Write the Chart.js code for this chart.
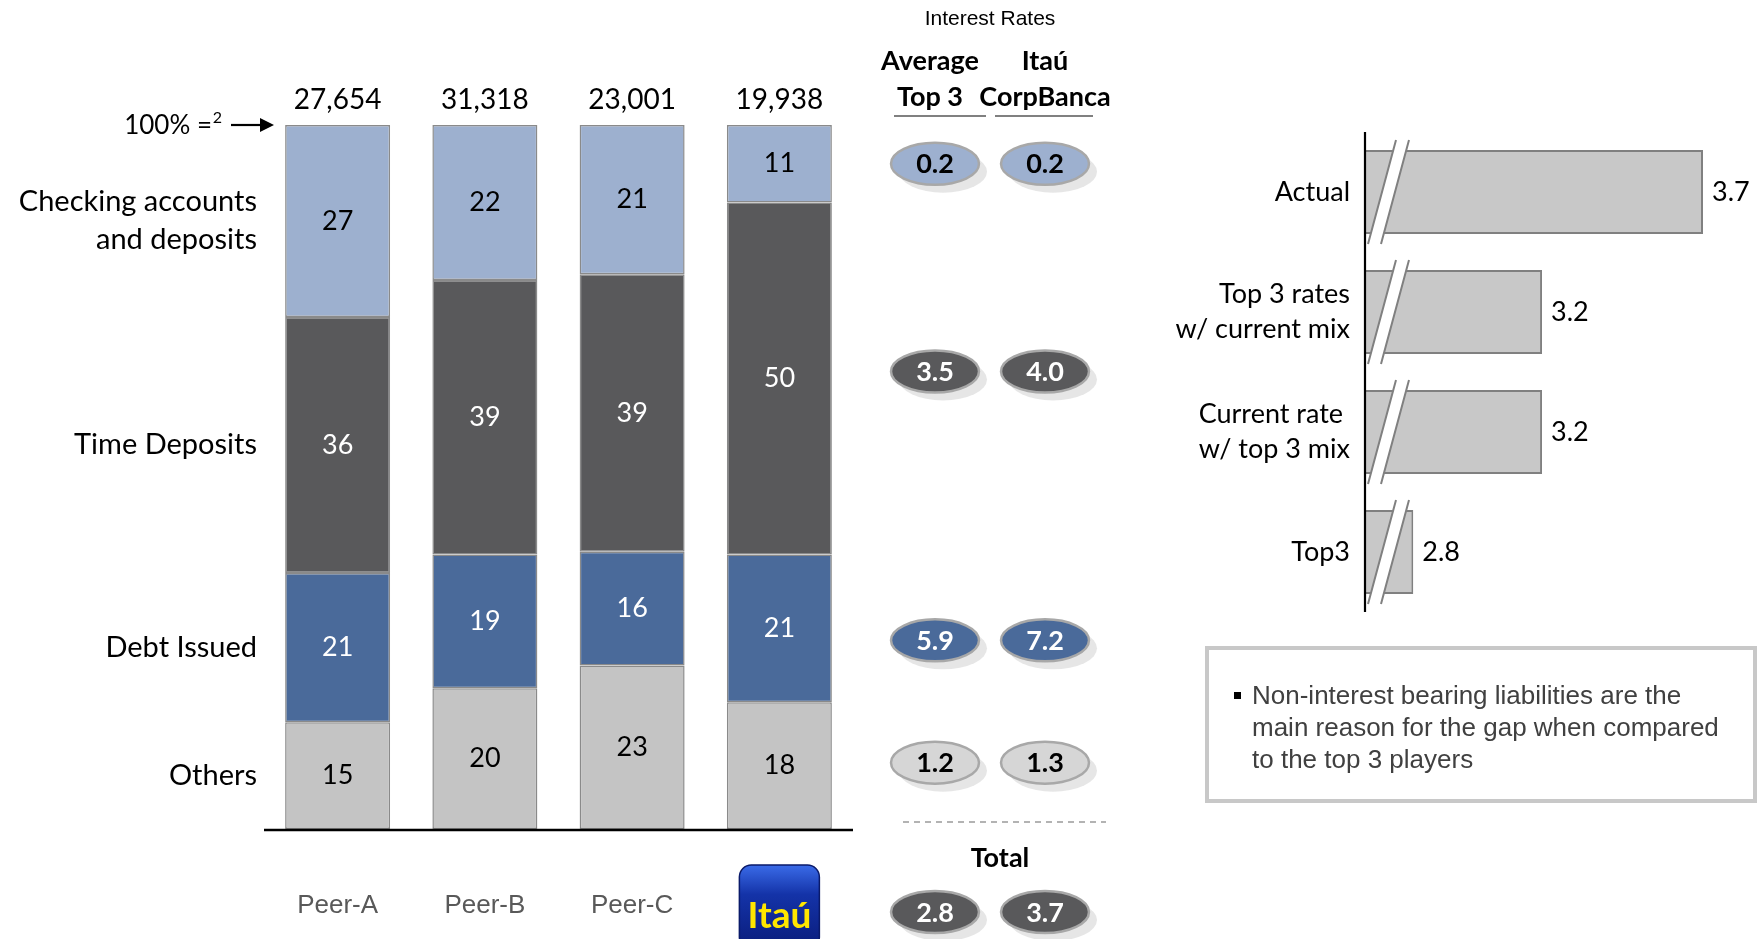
<!DOCTYPE html>
<html>
<head>
<meta charset="utf-8">
<script src="https://cdn.jsdelivr.net/npm/chart.js@4.4.1/dist/chart.umd.min.js"></script>
<style>
  html, body { margin: 0; padding: 0; background: #ffffff; width: 1764px; height: 939px; overflow: hidden; }
  canvas { position: absolute; left: 0; top: 0; }
  #note {
    position: absolute; left: 1205px; top: 646px; width: 552px; height: 157px;
    box-sizing: border-box; border: 4px solid #c8c8c8;
    font-family: "Liberation Sans", Arial, sans-serif; font-size: 26px; line-height: 32px; color: #404040;
    padding: 29px 0 0 43px; white-space: nowrap;
  }
  #note .bullet { position: absolute; left: 25px; top: 42px; width: 7px; height: 7px; background: #000; }
</style>
</head>
<body>
<canvas id="mix" width="1764" height="939"></canvas>
<canvas id="scen" width="1764" height="939"></canvas>
<div id="note"><span class="bullet"></span>Non-interest bearing liabilities are the<br>main reason for the gap when compared<br>to the top 3 players</div>
<script>
// ---------- DATA ----------
const banks = ['Peer-A', 'Peer-B', 'Peer-C', 'Itaú'];
const bankTotals = ['27,654', '31,318', '23,001', '19,938'];
const segmentNames = [['Checking accounts', 'and deposits'], ['Time Deposits'], ['Debt Issued'], ['Others']];
const checking = [27, 22, 21, 11];
const timeDep = [36, 39, 39, 50];
const debt = [21, 19, 16, 21];
const others = [15, 20, 23, 18];
const ratesTop3 = [0.2, 3.5, 5.9, 1.2];
const ratesItau = [0.2, 4.0, 7.2, 1.3];
const totalRates = [2.8, 3.7];
const scenarioLabels = [['Actual'], ['Top 3 rates', 'w/ current mix'], ['Current rate ', 'w/ top 3 mix'], ['Top3']];
const scenarioValues = [3.7, 3.2, 3.2, 2.8];

// ---------- STYLE / LAYOUT ----------
const BODY = 'Lato, "Open Sans", sans-serif';
const ARIAL = '"Liberation Sans", Arial, sans-serif';
const segColors = ['#9DB0CF', '#59595B', '#4A6A9A', '#C4C4C4'];
const segText = ['#000000', '#ffffff', '#ffffff', '#000000'];
const ellFill = ['#9DB0CF', '#59595B', '#4A6A9A', '#D6D6D6'];
const ellNudge = [0, -7, 12, -3];   // small vertical offsets (px) of rate ellipses vs. Itaú segment centres

// segment arrays in top-to-bottom order
const segs = [checking, timeDep, debt, others];
const sums = banks.map((_, i) => segs.reduce((a, s) => a + s[i], 0));
const share = arr => arr.map((v, i) => v / sums[i] * 100);

// datasets bottom first
const order = [3, 2, 1, 0];
const datasets = order.map(k => ({
  label: segmentNames[k].join(' '),
  data: share(segs[k]),
  raw: segs[k],
  seg: k,
  backgroundColor: segColors[k],
  borderColor: '#8a8a8a',
  borderWidth: 1.5,
  borderSkipped: false,
  categoryPercentage: 1,
  barPercentage: 0.713
}));

function drawEllipse(ctx, cx, cy, fill, tcol, text) {
  const rx = 44, ry = 21;
  ctx.save();
  ctx.fillStyle = 'rgba(200,200,200,0.45)';
  ctx.beginPath(); ctx.ellipse(cx + 8, cy + 8, rx, ry, 0, 0, Math.PI * 2); ctx.fill();
  ctx.fillStyle = fill;
  ctx.strokeStyle = '#a8a8a8';
  ctx.lineWidth = 2.5;
  ctx.beginPath(); ctx.ellipse(cx, cy, rx, ry, 0, 0, Math.PI * 2); ctx.fill(); ctx.stroke();
  ctx.fillStyle = tcol;
  ctx.font = 'bold 27px ' + BODY;
  ctx.textAlign = 'center'; ctx.textBaseline = 'middle';
  ctx.fillText(text, cx, cy + 1);
  ctx.restore();
}

const mixPlugin = {
  id: 'mixPlugin',
  afterDatasetsDraw(chart) {
    const ctx = chart.ctx;
    const xs = chart.scales.x, ca = chart.chartArea;
    ctx.save();
    // segment value labels
    chart.data.datasets.forEach((ds, di) => {
      const meta = chart.getDatasetMeta(di);
      meta.data.forEach((el, i) => {
        ctx.fillStyle = segText[ds.seg];
        ctx.font = '27px ' + BODY;
        ctx.textAlign = 'center'; ctx.textBaseline = 'middle';
        ctx.fillText(String(ds.raw[i]), el.x, (el.y + el.base) / 2);
      });
    });
    // totals above bars
    ctx.fillStyle = '#000';
    ctx.font = '28px ' + BODY;
    ctx.textAlign = 'center'; ctx.textBaseline = 'middle';
    bankTotals.forEach((t, i) => ctx.fillText(t, xs.getPixelForValue(i), ca.top - 25));
    // 100% =2 arrow
    ctx.textAlign = 'right';
    ctx.font = '16px ' + BODY;
    ctx.fillText('2', 222, ca.top - 7);
    ctx.font = '26px ' + BODY;
    ctx.fillText('100% =', 212, ca.top + 1);
    ctx.strokeStyle = '#000'; ctx.lineWidth = 2.2;
    ctx.beginPath(); ctx.moveTo(231, ca.top); ctx.lineTo(262, ca.top); ctx.stroke();
    ctx.beginPath(); ctx.moveTo(274, ca.top); ctx.lineTo(260, ca.top - 7); ctx.lineTo(260, ca.top + 7); ctx.closePath(); ctx.fill();
    // left category labels at Peer-A segment centres
    ctx.font = '29px ' + BODY;
    ctx.textAlign = 'right';
    chart.data.datasets.forEach((ds, di) => {
      const el = chart.getDatasetMeta(di).data[0];
      const cy = (el.y + el.base) / 2;
      const lines = segmentNames[ds.seg];
      const lh = 38;
      lines.forEach((ln, j) => ctx.fillText(ln, 257, cy + (j - (lines.length - 1) / 2) * lh));
    });
    // baseline
    ctx.strokeStyle = '#000'; ctx.lineWidth = 2.5;
    ctx.beginPath(); ctx.moveTo(ca.left, ca.bottom + 1); ctx.lineTo(ca.right, ca.bottom + 1); ctx.stroke();
    // x labels
    ctx.fillStyle = '#595959';
    ctx.font = '26px ' + ARIAL;
    ctx.textAlign = 'center';
    banks.forEach((b, i) => {
      if (i < banks.length - 1) ctx.fillText(b, xs.getPixelForValue(i), 906);
    });
    // Itaú logo
    const lx = xs.getPixelForValue(banks.length - 1);
    const L = lx - 40, T = 865, W = 80, H = 84, r = 12;
    const g = ctx.createLinearGradient(0, T, 0, T + H);
    g.addColorStop(0, '#3A6BE8'); g.addColorStop(0.35, '#1433A8'); g.addColorStop(1, '#0A1C7A');
    ctx.fillStyle = g;
    ctx.beginPath(); ctx.roundRect(L, T, W, H, r); ctx.fill();
    ctx.strokeStyle = '#0a1a6a'; ctx.lineWidth = 1.5; ctx.stroke();
    ctx.fillStyle = '#FFE600';
    ctx.font = 'bold 37px ' + BODY;
    ctx.textBaseline = 'alphabetic';
    ctx.fillText('Itaú', lx, 928);

    // ---- interest rates panel ----
    const c1 = 935, c2 = 1045;
    ctx.fillStyle = '#000';
    ctx.textBaseline = 'middle';
    ctx.font = '21px ' + ARIAL;
    ctx.fillText('Interest Rates', 990, 19);
    ctx.font = 'bold 27px ' + BODY;
    ctx.fillText('Average', c1 - 5, 61); ctx.fillText('Top 3', c1 - 5, 97);
    ctx.fillText('Itaú', c2, 61); ctx.fillText('CorpBanca', c2, 97);
    ctx.strokeStyle = '#808080'; ctx.lineWidth = 2;
    ctx.beginPath(); ctx.moveTo(894, 116); ctx.lineTo(986, 116); ctx.moveTo(995, 116); ctx.lineTo(1093, 116); ctx.stroke();
    // ellipses at Itaú segment centres
    const last = banks.length - 1;
    chart.data.datasets.forEach((ds, di) => {
      const el = chart.getDatasetMeta(di).data[last];
      const k = ds.seg;
      const cy = (el.y + el.base) / 2 + ellNudge[k];
      drawEllipse(ctx, c1, cy, ellFill[k], segText[k], ratesTop3[k].toFixed(1));
      drawEllipse(ctx, c2, cy, ellFill[k], segText[k], ratesItau[k].toFixed(1));
    });
    // dashed separator and totals
    ctx.strokeStyle = '#9a9a9a'; ctx.lineWidth = 1.3; ctx.setLineDash([6, 5]);
    ctx.beginPath(); ctx.moveTo(903, ca.bottom - 7); ctx.lineTo(1106, ca.bottom - 7); ctx.stroke();
    ctx.setLineDash([]);
    ctx.fillStyle = '#000'; ctx.font = 'bold 27px ' + BODY; ctx.textAlign = 'center';
    ctx.fillText('Total', 1000, 858);
    drawEllipse(ctx, c1, 912, '#59595B', '#ffffff', totalRates[0].toFixed(1));
    drawEllipse(ctx, c2, 912, '#59595B', '#ffffff', totalRates[1].toFixed(1));
    ctx.restore();
  }
};

new Chart(document.getElementById('mix'), {
  type: 'bar',
  data: { labels: banks, datasets },
  options: {
    responsive: false, animation: false, devicePixelRatio: 1,
    layout: { padding: { left: 264, right: 911, top: 125, bottom: 110 } },
    plugins: { legend: { display: false }, tooltip: { enabled: false } },
    scales: {
      x: { stacked: true, display: false },
      y: { stacked: true, display: false, min: 0, max: 100 }
    }
  },
  plugins: [mixPlugin]
});

// ---------- scenario chart ----------
const scenPlugin = {
  id: 'scenPlugin',
  afterDatasetsDraw(chart) {
    const ctx = chart.ctx, ca = chart.chartArea;
    const meta = chart.getDatasetMeta(0);
    ctx.save();
    meta.data.forEach((el, i) => {
      const top = el.y - el.height / 2 - 10, bot = el.y + el.height / 2 + 10;
      const dx = 28, gap = 13, x0 = ca.left + 3;
      ctx.fillStyle = '#ffffff';
      ctx.beginPath();
      ctx.moveTo(x0, bot); ctx.lineTo(x0 + dx, top); ctx.lineTo(x0 + dx + gap, top); ctx.lineTo(x0 + gap, bot); ctx.closePath();
      ctx.fill();
      ctx.strokeStyle = '#808080'; ctx.lineWidth = 2;
      ctx.beginPath();
      ctx.moveTo(x0, bot); ctx.lineTo(x0 + dx, top);
      ctx.moveTo(x0 + gap, bot); ctx.lineTo(x0 + dx + gap, top);
      ctx.stroke();
      // value label
      ctx.fillStyle = '#000'; ctx.font = '27px ' + BODY;
      ctx.textAlign = 'left'; ctx.textBaseline = 'middle';
      ctx.fillText(scenarioValues[i].toFixed(1), el.x + 9, el.y);
      // category label
      ctx.textAlign = 'right';
      const lines = scenarioLabels[i];
      lines.forEach((ln, j) => ctx.fillText(ln, ca.left - 15, el.y + (j - (lines.length - 1) / 2) * 35));
    });
    ctx.strokeStyle = '#000'; ctx.lineWidth = 2.2;
    ctx.beginPath(); ctx.moveTo(ca.left, ca.top); ctx.lineTo(ca.left, ca.bottom); ctx.stroke();
    ctx.restore();
  }
};

new Chart(document.getElementById('scen'), {
  type: 'bar',
  data: {
    labels: scenarioLabels.map(l => l.join(' ')),
    datasets: [{
      data: scenarioValues,
      backgroundColor: '#C8C8C8',
      borderColor: '#808080',
      borderWidth: 2,
      borderSkipped: false,
      categoryPercentage: 1,
      barPercentage: 0.7
    }]
  },
  options: {
    indexAxis: 'y',
    responsive: false, animation: false, devicePixelRatio: 1,
    layout: { padding: { left: 1365, right: 61, top: 132, bottom: 327 } },
    plugins: { legend: { display: false }, tooltip: { enabled: false } },
    scales: {
      x: { display: false, min: 2.65, max: 3.7 },
      y: { display: false }
    }
  },
  plugins: [scenPlugin]
});
</script>
</body>
</html>
